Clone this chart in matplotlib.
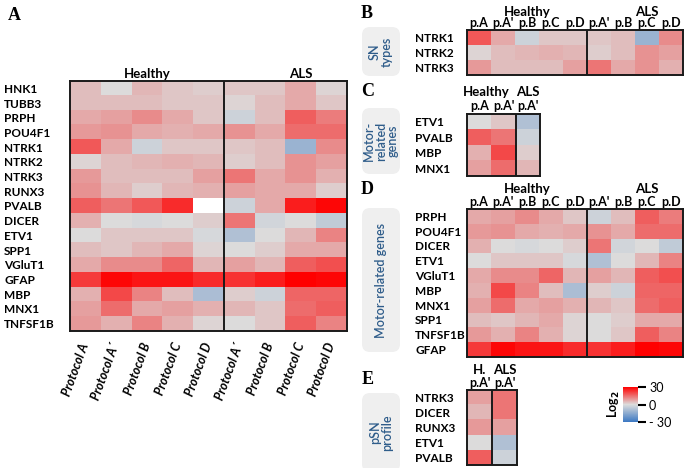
import numpy as np
import matplotlib
matplotlib.use("Agg")
import matplotlib.pyplot as plt
from matplotlib.colors import LinearSegmentedColormap
from matplotlib.patches import FancyBboxPatch

plt.rcParams['font.family'] = ['Lato', 'DejaVu Sans']

W, H = 685, 468

# Panel A data (log2 values)
genes_A = ["HNK1", "TUBB3", "PRPH", "POU4F1", "NTRK1", "NTRK2", "NTRK3", "RUNX3",
           "PVALB", "DICER", "ETV1", "SPP1", "VGluT1", "GFAP", "MBP", "MNX1", "TNFSF1B"]
protocols_A = ["Protocol A", "Protocol A\u00b4", "Protocol B", "Protocol C", "Protocol D",
               "Protocol A\u00b4", "Protocol B", "Protocol C", "Protocol D"]
vals_A = [
    [4, 0, 5, 3, 2, 3, 3, 7, 1],
    [4, 4, 4, 3, 3, 1, 4, 7, 3],
    [7, 8, 11, 7, 3, -3, 4, 17, 13],
    [9, 10, 7, 6, 7, 10, 7, 15, 15],
    [18, 7, -3, 3, 3, 3, 4, -12, 11],
    [1, 4, 5, 6, 5, 2, 4, 10, 8],
    [9, 4, 4, 4, 8, 14, 7, 10, 6],
    [10, 5, 2, 5, 6, 8, 7, 7, 2],
    [17, 14, 18, 24, np.nan, -3, 7, 26, 29],
    [6, 0, -1, 0, 2, 14, -2, 0, -5],
    [0, 3, 3, 3, -1, -8, 0, 5, 12],
    [4, 3, 5, 7, 1, 0, 2, 7, 7],
    [7, 11, 11, 16, 5, 8, 5, 17, 19],
    [22, 29, 27, 27, 24, 23, 26, 30, 29],
    [6, 20, 12, 4, -9, 2, -3, 16, 16],
    [8, 15, 7, 8, 6, 5, 3, 15, 17],
    [9, 6, 12, 6, 1, 0, 3, 17, 12],
]
cols_short = ["p.A", "p.A'", "p.B", "p.C", "p.D", "p.A'", "p.B", "p.C", "p.D"]

genes_B = ["NTRK1", "NTRK2", "NTRK3"]
genes_C = ["ETV1", "PVALB", "MBP", "MNX1"]
cols_C = ["p.A", "p.A'", "p.A'"]
genes_D = ["PRPH", "POU4F1", "DICER", "ETV1", "VGluT1", "MBP", "MNX1", "SPP1", "TNFSF1B", "GFAP"]
genes_E = ["NTRK3", "DICER", "RUNX3", "ETV1", "PVALB"]
cols_E = ["p.A'", "p.A'"]
vals_E = [[8, 14], [5, 14], [9, 8], [0, -8], [17, -3]]

cmap = LinearSegmentedColormap.from_list("bgr", ["#3b78c2", "#dcdcdc", "#ff0000"])
cmap.set_bad("white")


def px(x0, y0, x1, y1):
    return [x0 / W, 1 - y1 / H, (x1 - x0) / W, (y1 - y0) / H]


def subset(genes, cols):
    A = np.array(vals_A, dtype=float)
    idx = [genes_A.index(g) for g in genes]
    return A[idx][:, cols]


def heat(rect, data, genes, split, label_x, top_cols=None, pad=1):
    ax = fig.add_axes(px(*rect))
    ax.imshow(data, cmap=cmap, vmin=-30, vmax=30, aspect='auto', interpolation='nearest')
    ax.axvline(split, color='#1a1a1a', lw=1.4)
    for s in ax.spines.values():
        s.set_linewidth(1.4)
        s.set_color('#1a1a1a')
    ax.set_yticks(range(len(genes)))
    ax.set_yticklabels(genes, ha='left', fontweight='bold', fontsize=8.5)
    ax.tick_params(axis='y', length=0, pad=(rect[0] - label_x) * 0.72)
    if top_cols is not None:
        ax.xaxis.tick_top()
        ax.set_xticks(range(len(top_cols)))
        ax.set_xticklabels(top_cols, fontweight='bold', fontsize=9)
        ax.tick_params(axis='x', length=0, pad=pad)
    else:
        ax.set_xticks([])
    return ax


def group(ax, x, text, off_px):
    ax.annotate(text, xy=(x, 1), xycoords=('data', 'axes fraction'),
                xytext=(0, off_px * 0.72), textcoords='offset points',
                ha='center', va='center', fontweight='bold', fontsize=9.5)


def side_box(y0, y1, text):
    box = FancyBboxPatch((362 / 100, (H - y1) / 100), 38 / 100, (y1 - y0) / 100,
                         boxstyle="round,pad=0,rounding_size=0.08",
                         transform=fig.dpi_scale_trans, facecolor='#efefef',
                         edgecolor='none')
    fig.patches.append(box)
    fig.text(381 / W, 1 - (y0 + y1) / 2 / H, text, rotation=90, ha='center', va='center',
             color='#2e5c8a', fontsize=9, fontweight='semibold', linespacing=1.0)


def letter(x, y, s):
    fig.text(x / W, 1 - y / H, s, family='Liberation Serif', fontweight='bold',
             fontsize=13, ha='left', va='center')


fig = plt.figure(figsize=(W / 100, H / 100), dpi=100)

# Panel A
axA = heat((70, 81, 347, 331), np.array(vals_A, dtype=float), genes_A, 4.5, 4)
axA.set_xticks(range(9))
axA.set_xticklabels(protocols_A, rotation=70, ha='right', va='center',
                    rotation_mode='anchor', fontweight='bold', style='italic', fontsize=9)
axA.tick_params(axis='x', length=0, pad=9)
group(axA, 2, "Healthy", 7)
group(axA, 7, "ALS", 7)
letter(8, 15, "A")

# Panel B
axB = heat((467, 30, 683, 75), subset(genes_B, list(range(9))), genes_B, 4.5, 415, cols_short, 0.5)
group(axB, 2, "Healthy", 18)
group(axB, 7, "ALS", 18)
side_box(27, 76, "SN\ntypes")
letter(361, 14, "B")

# Panel C
axC = heat((467, 114, 540, 176), subset(genes_C, [0, 1, 5]), genes_C, 1.5, 415, cols_C, 1.5)
group(axC, 0.3, "Healthy", 22)
group(axC, 2, "ALS", 22)
side_box(108, 174, "Motor-\nrelated\ngenes")
letter(361, 92, "C")

# Panel D
axD = heat((467, 209, 683, 357), subset(genes_D, list(range(9))), genes_D, 4.5, 415, cols_short, 1)
group(axD, 2, "Healthy", 20)
group(axD, 7, "ALS", 20)
side_box(208, 352, "Motor-related genes")
letter(361, 190, "D")

# Panel E
axE = heat((467, 390, 517, 465), np.array(vals_E, dtype=float), genes_E, 0.5, 415, cols_E, 1)
group(axE, 0, "H.", 20)
group(axE, 1, "ALS", 20)
side_box(393, 472, "pSN\nprofile")
letter(362, 380, "E")

# colour bar
cax = fig.add_axes(px(623, 387, 638, 422))
sm = plt.cm.ScalarMappable(cmap=cmap, norm=plt.Normalize(-30, 30))
cb = fig.colorbar(sm, cax=cax, ticks=[-30, 0, 30])
cb.outline.set_visible(False)
cb.ax.set_yticklabels(["- 30", "0", "30"], fontsize=9)
cb.ax.tick_params(length=6, width=1.5, pad=2)
for t, c in zip(cb.ax.yaxis.get_major_ticks(), ["#3b78c2", "#dcdcdc", "#ff0000"]):
    t.tick2line.set_color(c)
fig.text(614 / W, 1 - 404 / H, r"Log$_\mathbf{2}$", rotation=90, ha='center', va='center',
         fontweight='bold', fontsize=9)

fig.savefig("out.png", dpi=100)
